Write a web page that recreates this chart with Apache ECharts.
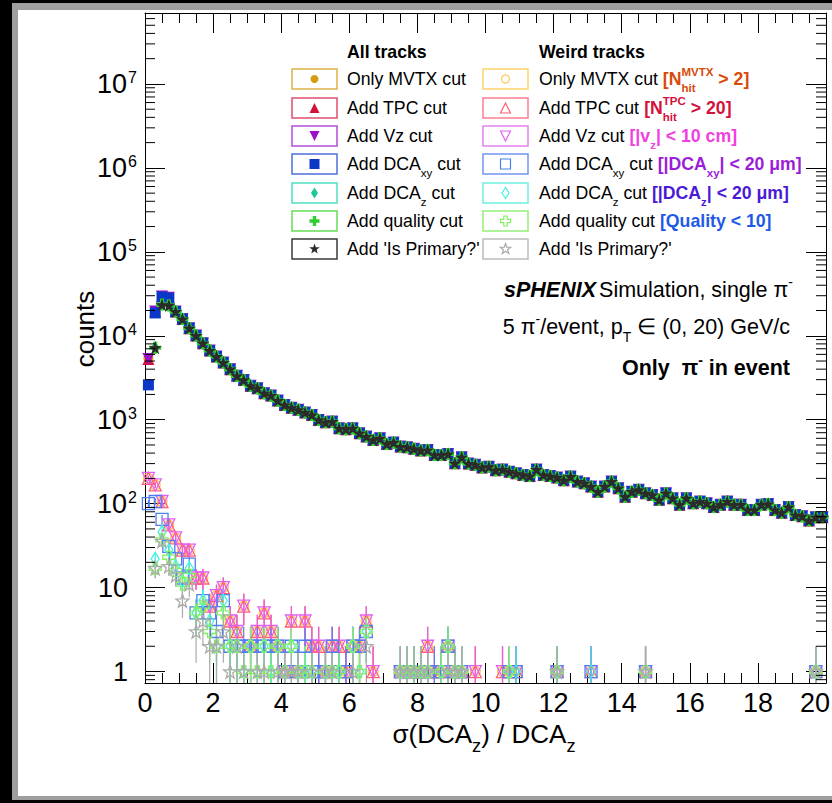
<!DOCTYPE html>
<html><head><meta charset="utf-8">
<script src="https://cdn.jsdelivr.net/npm/echarts@6/dist/echarts.min.js"></script>
<style>
html,body{margin:0;padding:0;background:#000;overflow:hidden;}
#gray{position:absolute;left:12px;top:3px;width:830px;height:797px;background:#9e9e9e;}
#white{position:absolute;left:18px;top:10px;width:820px;height:786px;background:#fff;}
#c{position:absolute;left:0;top:0;width:832px;height:803px;}
</style>
</head><body><div id="gray"></div><div id="white"></div><div id="c"></div>
<script>
// ---------------- DATA ----------------
// bin centres of the histogram (0.2 wide bins from 0 to 20)
const binCenters = [];
for (let i = 0; i < 100; i++) binCenters.push(+(0.1 + 0.2 * i).toFixed(1));

// "All tracks": first four bins differ per cut, the rest coincide
const headMVTX    = [5400, 19600, 29600, 28600];
const headTPC     = [5300, 19500, 29500, 28500];
const headVz      = [5300, 19400, 29400, 28400];
const headDCAxy   = [2600, 18700, 29000, 28000];
const headDCAz    = [null, 7300, 23600, 23100];
const headQuality = [null, 7200, 23500, 23000];
const headPrimary = [null, 7200, 23400, 23000];
// common counts from bin 0.9 to 19.9
const tailCounts = [
  19400,15800,12300,10050,8160,6660,5650,4790,4000,3330,
  2980,2530,2370,2070,1940,1690,1500,1390,1310,1217,
  1140,995,930,950,790,770,790,690,630,575,
  600,515,535,478,470,450,430,435,380,380,
  390,303,357,300,290,270,275,250,255,240,
  230,220,213,255,220,213,205,190,210,183,
  175,160,139,160,183,153,121,139,146,133,
  127,111,133,116,97,116,101,106,101,91,
  97,106,97,97,84,84,97,99,84,78,
  91,73,71,63,69,69
];

// "Weird tracks": [bin centre, counts]
const weirdPreDCA = [
  [0.1,200],[0.3,167],[0.5,106],[0.7,56],[0.9,39],[1.1,28],[1.3,28],[1.5,13],[1.7,13],[1.9,6],
  [2.1,8],[2.3,10],[2.5,4],[2.7,3],[2.9,6],[3.1,2],[3.3,3],[3.5,5],[3.7,3],[3.9,2],[4.1,1],
  [4.3,4],[4.5,1],[4.7,4],[4.9,2],[5.1,2],[5.3,1],[5.5,2],[5.7,2],[5.9,1],[6.1,2],[6.3,2],
  [6.5,4],[6.7,1],[7.5,1],[7.7,1],[7.9,1],[8.1,1],[8.3,2],[8.5,1],[8.7,1],[8.9,2],[9.1,1],
  [9.3,1],[9.7,1],[10.5,1],[10.7,1],[10.9,1],[12.1,1],[13.1,1],[14.7,1],[19.7,1]
];
const weirdMVTX = weirdPreDCA;
const weirdTPC = weirdPreDCA;
const weirdVz = weirdPreDCA;
const weirdDCAxy = [
  [0.1,100],[0.3,106],[0.5,65],[0.7,31],[0.9,22],[1.1,13],[1.3,19],[1.5,5],[1.7,7],[1.9,5],
  [2.1,3],[2.3,7],[2.5,2],[2.7,2],[2.9,2],[3.1,2],[3.3,2],[3.5,2],[3.7,2],[3.9,2],[4.1,1],
  [4.3,2],[4.5,1],[4.7,2],[4.9,1],[5.1,1],[5.3,1],[5.5,2],[5.7,1],[5.9,1],[6.1,2],[6.3,2],
  [6.5,3],[7.5,1],[7.7,1],[7.9,1],[8.1,1],[8.3,1],[8.5,1],[8.7,1],[8.9,2],[9.1,1],[9.3,1],
  [10.7,1],[10.9,1],[12.1,1],[13.1,1],[14.7,1],[19.7,1]
];
const weirdDCAz = [
  [0.3,22],[0.5,46],[0.7,28],[0.9,18],[1.1,12],[1.3,17],[1.5,5],[1.7,7],[1.9,4],[2.1,2],
  [2.3,7],[2.5,2],[2.7,2],[2.9,1],[3.1,2],[3.3,1],[3.5,2],[3.7,1],[3.9,2],[4.1,1],[4.3,2],
  [4.5,1],[4.7,1],[4.9,1],[5.3,1],[5.5,1],[5.7,1],[6.1,2],[6.3,1],[6.5,3],[7.5,1],[7.7,1],
  [7.9,1],[8.1,1],[8.3,1],[8.7,1],[8.9,2],[9.1,1],[9.3,1],[10.7,1],[10.9,1],[12.1,1],
  [13.1,1],[14.7,1],[19.7,1]
];
const weirdQuality = [
  [0.3,17],[0.5,37],[0.7,23],[0.9,16],[1.1,11],[1.3,14],[1.5,5],[1.7,6],[1.9,3],[2.1,2],
  [2.3,5],[2.5,2],[2.7,2],[2.9,1],[3.1,2],[3.3,1],[3.5,2],[3.7,1],[3.9,2],[4.1,1],[4.3,2],
  [4.5,1],[4.7,1],[4.9,1],[5.3,1],[5.5,1],[5.7,1],[6.1,2],[6.3,1],[6.5,3],[7.5,1],[7.7,1],
  [7.9,1],[8.1,1],[8.3,1],[8.7,1],[8.9,2],[9.1,1],[9.3,1],[10.7,1],[12.1,1],[14.7,1],[19.7,1]
];
const weirdPrimary = [
  [0.3,17],[0.5,36],[0.7,18],[0.9,14],[1.1,7],[1.3,11],[1.5,3],[1.7,4],[1.9,2],[2.1,2],
  [2.3,3],[2.5,1],[2.7,2],[2.9,1],[3.3,1],[3.5,1],[3.9,1],[4.1,1],[4.3,1],[4.5,1],[4.9,1],
  [5.3,1],[5.5,1],[6.1,1],[6.5,2],[7.5,1],[7.7,1],[7.9,1],[8.1,1],[8.3,1],[8.9,1],[9.1,1],
  [9.3,1],[12.1,1],[14.7,1],[19.7,1]
];

const allLabels = ['Only MVTX cut', 'Add TPC cut', 'Add Vz cut', 'Add DCAxy cut', 'Add DCAz cut', 'Add quality cut', "Add 'Is Primary?'"];
const xTickLabels = ['0','2','4','6','8','10','12','14','16','18','20'];

// ---------------- STYLE ----------------
const FONT = '"Liberation Sans", Arial, Helvetica, sans-serif';
const X_MIN = 0, X_MAX = 20, Y_MIN = 0.73, Y_MAX = 7e7;
const SYM_PTS = {
  triUp: [[50,0],[100,100],[0,100]],
  triDown: [[0,0],[100,0],[50,100]],
  diamond: [[50,0],[100,50],[50,100],[0,50]],
  cross: [[33,0],[67,0],[67,33],[100,33],[100,67],[67,67],[67,100],[33,100],[33,67],[0,67],[0,33],[33,33]],
  star: [[50,0],[61.8,33.8],[97.6,34.5],[69,56.2],[79.4,90.5],[50,70],[20.6,90.5],[31,56.2],[2.4,34.5],[38.2,33.8]]
};
function ptsPath(pts){ return 'M' + pts.map(p => p[0] + ',' + p[1]).join('L') + 'Z'; }
const SYM_SIZE = {circle:10, square:11, triUp:12, triDown:12, diamond:[8,13], cross:12, star:13};
function echSym(k){ return k === 'circle' ? 'circle' : k === 'square' ? 'rect' : 'path://' + ptsPath(SYM_PTS[k]); }

const allDefs = [
  {head: headMVTX,    sym:'circle',  color:'#d39b12', box:'#deb24a'},
  {head: headTPC,     sym:'triUp',   color:'#d3123c', box:'#de4f6c'},
  {head: headVz,      sym:'triDown', color:'#9a10c8', box:'#b24dd6'},
  {head: headDCAxy,   sym:'square',  color:'#0b37c9', box:'#4d6fd8'},
  {head: headDCAz,    sym:'diamond', color:'#1fc79b', box:'#4fe0c1'},
  {head: headQuality, sym:'cross',   color:'#2fcf2f', box:'#64dc56'},
  {head: headPrimary, sym:'star',    color:'#2b2b2b', box:'#3a3a3a'}
];
const weirdDefs = [
  {data: weirdMVTX,    sym:'circle',  color:'#ffc74f', box:'#ffd36a'},
  {data: weirdTPC,     sym:'triUp',   color:'#ff5f7a', box:'#ff7d93'},
  {data: weirdVz,      sym:'triDown', color:'#e35ff2', box:'#e482f1'},
  {data: weirdDCAxy,   sym:'square',  color:'#4f7ef2', box:'#7395f1'},
  {data: weirdDCAz,    sym:'diamond', color:'#3ff2e3', box:'#6ff0e3'},
  {data: weirdQuality, sym:'cross',   color:'#83f062', box:'#94ef78'},
  {data: weirdPrimary, sym:'star',    color:'#ababab', box:'#bcbcbc'}
];

// ---------------- SERIES ----------------
const series = [];
allDefs.forEach((d, k) => {
  const data = [];
  binCenters.forEach((x, i) => {
    const v = i < d.head.length ? d.head[i] : tailCounts[i - d.head.length];
    if (v != null) data.push([x, v]);
  });
  series.push({
    name: allLabels[k], type: 'scatter', data, symbol: echSym(d.sym), symbolSize: SYM_SIZE[d.sym],
    itemStyle: {color: d.color, opacity: 1}, silent: true, z: 2
  });
});
weirdDefs.forEach((d, k) => {
  series.push({
    type: 'custom', coordinateSystem: 'cartesian2d', silent: true, z: 3,
    data: d.data.map(([x, n]) => [x, n, Math.max(n - Math.sqrt(n), Y_MIN), n + Math.sqrt(n)]),
    encode: {x: 0, y: 1},
    renderItem: (p, api) => {
      const a = api.coord([api.value(0), api.value(3)]);
      const b = api.coord([api.value(0), api.value(2)]);
      return {type: 'line', shape: {x1: a[0], y1: a[1], x2: b[0], y2: b[1]}, style: {stroke: d.color, lineWidth: 1.2}};
    }
  });
  series.push({
    name: 'weird ' + allLabels[k], type: 'scatter', data: d.data, symbol: echSym(d.sym),
    symbolSize: SYM_SIZE[d.sym] === 11 ? 12 : SYM_SIZE[d.sym],
    itemStyle: {color: 'rgba(255,255,255,0)', borderColor: d.color, borderWidth: 1.3, opacity: 1},
    silent: true, z: 3
  });
});
// y minor ticks (2..9 x 10^n) on both sides of the frame
const yMinor = [];
for (let e = -1; e <= 7; e++) for (let m = 2; m <= 9; m++) {
  const v = m * Math.pow(10, e);
  if (v > Y_MIN && v < Y_MAX) yMinor.push([X_MIN, v]);
}
series.push({
  type: 'custom', coordinateSystem: 'cartesian2d', silent: true, z: 4, clip: false,
  data: yMinor, encode: {x: 0, y: 1},
  renderItem: (p, api) => {
    const l = api.coord([X_MIN, api.value(1)]);
    const r = api.coord([X_MAX, api.value(1)]);
    return {type: 'group', children: [
      {type: 'line', shape: {x1: l[0], y1: l[1], x2: l[0] + 10, y2: l[1]}, style: {stroke: '#000', lineWidth: 1}},
      {type: 'line', shape: {x1: r[0] - 10, y1: r[1], x2: r[0], y2: r[1]}, style: {stroke: '#000', lineWidth: 1}}
    ]};
  }
});

// ---------------- TEXT LAYOUT ----------------
const mctx = document.createElement('canvas').getContext('2d');
function fontStr(size, b, i){ return (i ? 'italic ' : '') + (b ? 'bold ' : '') + size + 'px ' + FONT; }
function tw(t, size, b, i){ mctx.font = fontStr(size, b, i); return mctx.measureText(t).width; }
function textEl(t, x, y, size, b, i, c){
  return {type: 'text', x, y, z: 50, silent: true,
    style: {text: t, font: fontStr(size, b, i), fill: c || '#000', align: 'left', verticalAlign: 'middle', textAlign: 'left', textVerticalAlign: 'middle'}};
}
function runs(segs, x, y, size, align, out, opt){
  opt = opt || {};
  const ss = size * (opt.sr || 0.65);
  const supOff = size * (opt.sup || 0.4), subOff = size * (opt.sub || 0.5);
  const items = segs.map(s => {
    if (s.t != null) return {w: tw(s.t, size, s.b, s.i), s};
    return {w: Math.max(s.sup ? tw(s.sup, ss, s.b) : 0, s.sub ? tw(s.sub, ss, s.b) : 0), s};
  });
  const total = items.reduce((a, it) => a + it.w + (it.s.gap || 0), 0);
  let cx = align === 'right' ? x - total : align === 'center' ? x - total / 2 : x;
  items.forEach(({w, s}) => {
    if (s.t != null) out.push(textEl(s.t, cx, y, size, s.b, s.i, s.c));
    else {
      if (s.sup) out.push(textEl(s.sup, cx, y - supOff, ss, s.b, false, s.c));
      if (s.sub) out.push(textEl(s.sub, cx, y + subOff, ss, s.b, false, s.c));
    }
    cx += w + (s.gap || 0);
  });
}

const G = [];
// legend
const LS = 17.7;
const rowY = [79, 108, 136, 164, 193, 221, 249];
G.push(textEl('All tracks', 347, 52, LS, true));
G.push(textEl('Weird tracks', 539, 52, LS, true));
const C1 = '#d84a0a', C2 = '#d4103c', C3 = '#f040e0', C4 = '#9a1ed8', C5 = '#4a1ad8', C6 = '#1e5ae6';
const col1Segs = [
  [{t:'Only MVTX cut'}],
  [{t:'Add TPC cut'}],
  [{t:'Add Vz cut'}],
  [{t:'Add DCA'},{sub:'xy'},{t:' cut'}],
  [{t:'Add DCA'},{sub:'z'},{t:' cut'}],
  [{t:'Add quality cut'}],
  [{t:"Add 'Is Primary?'"}]
];
const col2Segs = [
  [{t:'Only MVTX cut '},{t:'[N',b:1,c:C1},{sup:'MVTX',sub:'hit',b:1,c:C1},{t:' > 2]',b:1,c:C1}],
  [{t:'Add TPC cut '},{t:'[N',b:1,c:C2},{sup:'TPC',sub:'hit',b:1,c:C2},{t:' > 20]',b:1,c:C2}],
  [{t:'Add Vz cut '},{t:'[|v',b:1,c:C3},{sub:'z',b:1,c:C3},{t:'| < 10 cm]',b:1,c:C3}],
  [{t:'Add DCA'},{sub:'xy'},{t:' cut '},{t:'[|DCA',b:1,c:C4},{sub:'xy',b:1,c:C4},{t:'| < 20 μm]',b:1,c:C4}],
  [{t:'Add DCA'},{sub:'z'},{t:' cut '},{t:'[|DCA',b:1,c:C5},{sub:'z',b:1,c:C5},{t:'| < 20 μm]',b:1,c:C5}],
  [{t:'Add quality cut '},{t:'[Quality < 10]',b:1,c:C6}],
  [{t:"Add 'Is Primary?'"}]
];
function legendMarker(kind, cx, cy, color, open){
  const st = open ? {fill: 'none', stroke: color, lineWidth: 1.2} : {fill: color};
  const sz = {circle:8, square:10, triUp:10, triDown:10, diamond:[7,11], cross:10, star:11}[kind];
  if (kind === 'circle') return {type:'circle', z:50, silent:true, shape:{cx, cy, r: sz/2}, style: st};
  if (kind === 'square') return {type:'rect', z:50, silent:true, shape:{x: cx - sz/2, y: cy - sz/2, width: sz, height: sz}, style: st};
  const w = Array.isArray(sz) ? sz[0] : sz, h = Array.isArray(sz) ? sz[1] : sz;
  const pts = SYM_PTS[kind].map(p => [cx - w/2 + p[0] / 100 * w, cy - h/2 + p[1] / 100 * h]);
  return {type:'polygon', z:50, silent:true, shape:{points: pts}, style: st};
}
rowY.forEach((y, r) => {
  G.push({type:'rect', z:50, silent:true, shape:{x:292, y:y-10, width:45, height:20}, style:{fill:'#fff', stroke: allDefs[r].box, lineWidth:1.5}});
  G.push(legendMarker(allDefs[r].sym, 314.5, y, allDefs[r].color, false));
  runs(col1Segs[r], 347, y, LS, 'left', G);
  G.push({type:'rect', z:50, silent:true, shape:{x:483, y:y-10, width:45, height:20}, style:{fill:'#fff', stroke: weirdDefs[r].box, lineWidth:1.5}});
  G.push(legendMarker(weirdDefs[r].sym, 505.5, y, weirdDefs[r].color, true));
  runs(col2Segs[r], 539, y, LS, 'left', G);
});
// labels block
const TS = 21.5;
runs([{t:'sPHENIX',b:1,i:1,gap:3},{t:'Simulation, single π'},{sup:'-'}], 793, 290, TS, 'right', G, {sup:0.35});
runs([{t:'5 π'},{sup:'-'},{t:'/event, p'},{sub:'T'},{t:' ∈ (0, 20) GeV/c'}], 790, 327, TS, 'right', G, {sup:0.35, sub:0.45});
runs([{t:'Only  π',b:1},{sup:'-',b:1},{t:' in event',b:1}], 790, 368, TS, 'right', G, {sup:0.35});
// axis titles
runs([{t:'σ(DCA'},{sub:'z'},{t:') / DCA'},{sub:'z'}], 484, 734, 26, 'center', G, {sr:0.7, sub:0.47});
G.push({type:'text', x:85, y:329, rotation: Math.PI/2, z:50, silent:true,
  style:{text:'counts', font: fontStr(26), fill:'#000', align:'center', verticalAlign:'middle', textAlign:'center', textVerticalAlign:'middle'}});

// ---------------- AXES ----------------
const tickStyle = {color:'#000', width:1};
function xAxisCfg(pos, labels){
  return {type:'value', position: pos, min: X_MIN, max: X_MAX, interval: 2,
    axisLine:{show:true, onZero:false, lineStyle:{color:'#000', width:1}},
    axisTick:{show:true, inside:true, length:20, lineStyle: tickStyle},
    minorTick:{show:true, splitNumber:4, length:10, lineStyle: tickStyle},
    splitLine:{show:false}, minorSplitLine:{show:false},
    axisLabel:{show: labels, fontSize:27, fontFamily: FONT, color:'#000', margin:6,
      formatter: v => {
        const idx = Math.round(v / 2);
        const t = xTickLabels[idx] ?? '';
        return idx === xTickLabels.length - 1 ? '{r|' + t + '}' : t;
      },
      rich:{ r:{fontSize:27, fontFamily:FONT, color:'#000', padding:[0,22,0,0]} }}};
}
function yAxisCfg(pos, labels){
  return {type:'log', logBase:10, position: pos, min: Y_MIN, max: Y_MAX,
    axisLine:{show:true, onZero:false, lineStyle:{color:'#000', width:1}},
    axisTick:{show:true, inside:true, length:20, lineStyle: tickStyle},
    splitLine:{show:false},
    axisLabel:{show: labels, margin:8, color:'#000', fontFamily: FONT,
      formatter: v => {
        const e = Math.log10(v), r = Math.round(e);
        if (Math.abs(e - r) > 1e-6) return '';
        if (r === 0) return '{p|1}';
        if (r === 1) return '{p|10}';
        return '{b|10}{s|' + r + '}';
      },
      rich:{
        p:{fontSize:27, fontFamily:FONT, color:'#000', padding:[0,9,0,0]},
        b:{fontSize:27, fontFamily:FONT, color:'#000'},
        s:{fontSize:16, fontFamily:FONT, color:'#000', padding:[0,0,12,1]}
      }}};
}

const chart = echarts.init(document.getElementById('c'), null, {renderer:'svg', width:832, height:803});
chart.setOption({
  animation: false,
  backgroundColor: 'transparent',
  textStyle: {fontFamily: FONT},
  grid: {left:145, right:6, top:13, bottom:120, containLabel:false, outerBoundsMode:'none'},
  xAxis: [xAxisCfg('bottom', true), xAxisCfg('top', false)],
  yAxis: [yAxisCfg('left', true), yAxisCfg('right', false)],
  series: series,
  graphic: {elements: G}
});
</script>
</body></html>
